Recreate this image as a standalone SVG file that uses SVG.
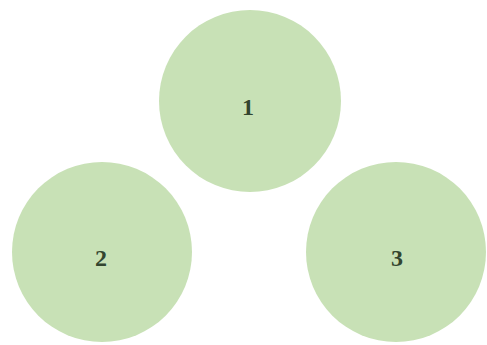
<svg xmlns="http://www.w3.org/2000/svg" width="487" height="345" viewBox="0 0 487 345">
<style>
.n{fill:#c8e1b6;}
.t{font-family:"Liberation Serif","DejaVu Serif",serif;font-size:24px;font-weight:bold;fill:#33452f;text-anchor:middle;}
</style>
<rect width="487" height="345" fill="#ffffff"/>
<g id="node1"><circle class="n" cx="250" cy="101" r="91"/><text class="t" x="248" y="115">1</text></g>
<g id="node2"><circle class="n" cx="102" cy="252" r="90"/><text class="t" x="101" y="266">2</text></g>
<g id="node3"><circle class="n" cx="396" cy="252" r="90"/><text class="t" x="397" y="266">3</text></g>
<g id="connectors"></g>
</svg>
